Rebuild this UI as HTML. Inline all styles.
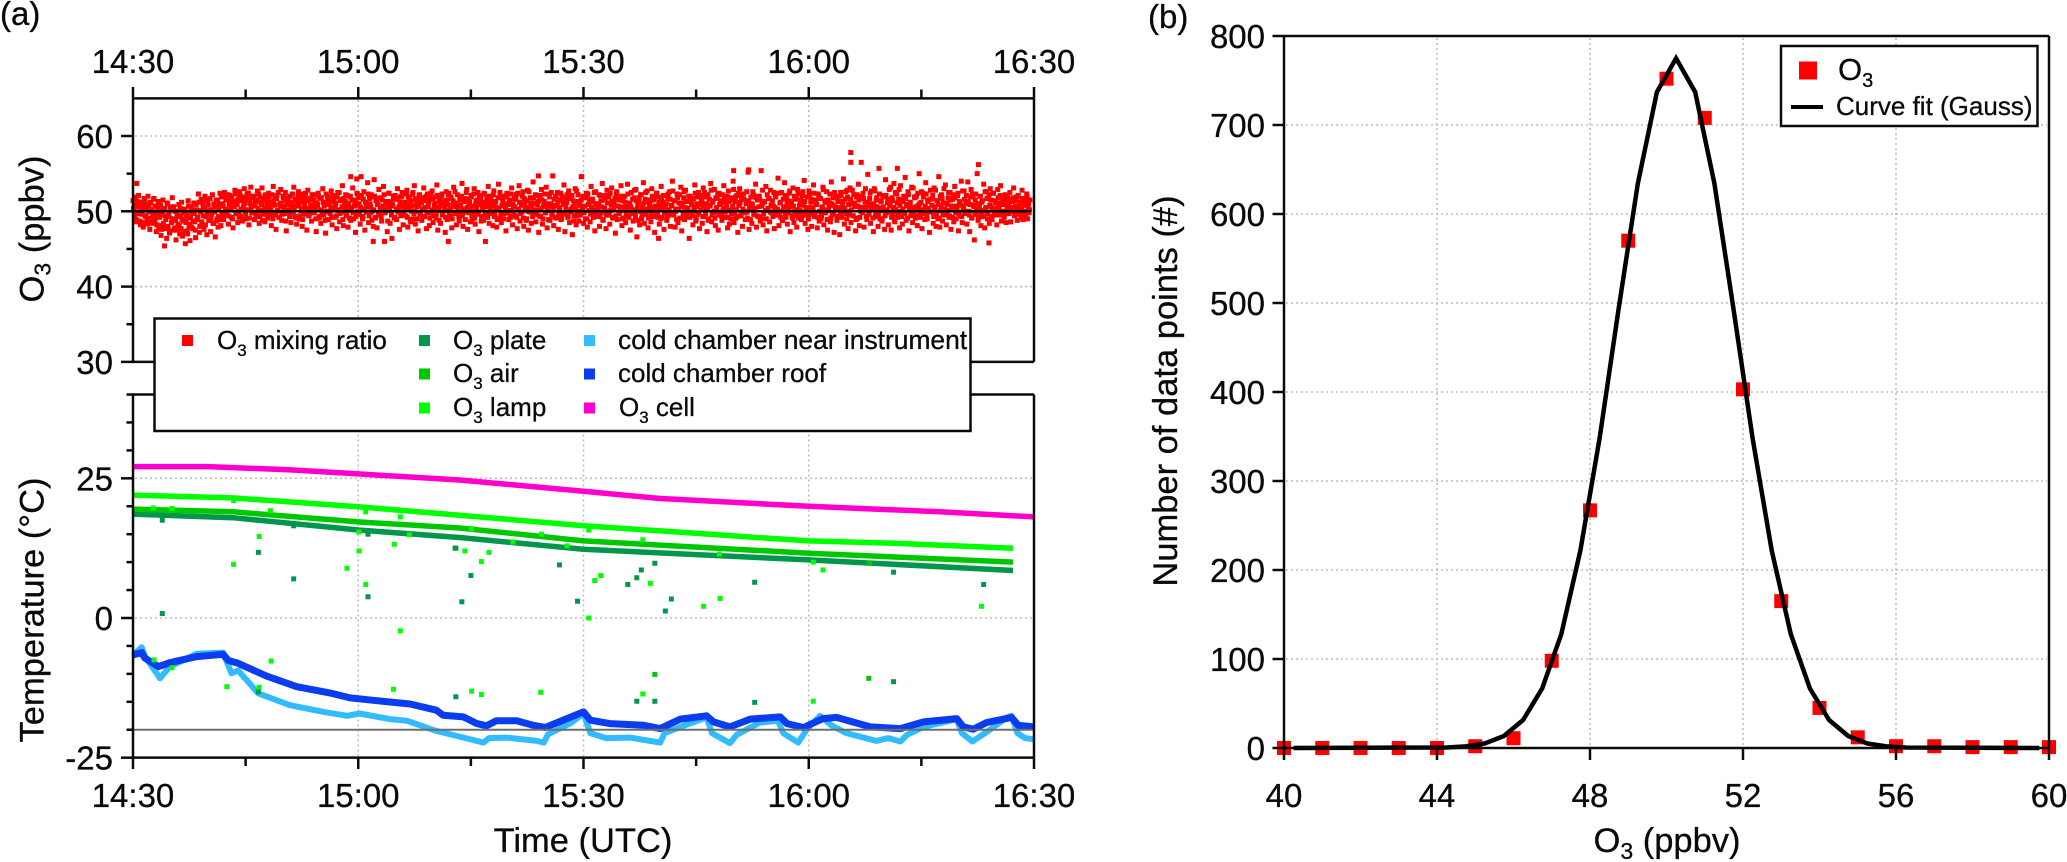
<!DOCTYPE html>
<html lang="en">
<head>
<meta charset="utf-8">
<title>O3 time series and histogram</title>
<style>
html,body{margin:0;padding:0;background:#fff}
svg{display:block}
text{font-family:"Liberation Sans",Arial,sans-serif;fill:#0a0a0a;stroke:#0a0a0a;stroke-width:.3px}
</style>
</head>
<body>
<svg id="figure" xmlns="http://www.w3.org/2000/svg" width="2067" height="862" viewBox="0 0 2067 862">
<rect x="0" y="0" width="2067" height="862" fill="#fff"/>
<text x="0" y="25" font-size="33">(a)</text>
<text x="1148" y="28" font-size="33">(b)</text>
<g id="plot-a"></g>
<g>
<rect x="154.5" y="318.5" width="816" height="112.5" fill="#fff" stroke="#0a0a0a" stroke-width="2.5"/>
<rect x="182" y="335" width="11" height="11" fill="#ff0000"/>
<text x="217" y="349" font-size="26">O<tspan font-size="17" dy="7">3</tspan><tspan dy="-7"> mixing ratio</tspan></text>
<rect x="419" y="335" width="11" height="11" fill="#00964b"/>
<text x="453" y="349" font-size="26">O<tspan font-size="17" dy="7">3</tspan><tspan dy="-7"> plate</tspan></text>
<rect x="419" y="368.5" width="11" height="11" fill="#00c800"/>
<text x="453" y="382" font-size="26">O<tspan font-size="17" dy="7">3</tspan><tspan dy="-7"> air</tspan></text>
<rect x="419" y="402.5" width="11" height="11" fill="#00ff00"/>
<text x="453" y="416" font-size="26">O<tspan font-size="17" dy="7">3</tspan><tspan dy="-7"> lamp</tspan></text>
<rect x="584" y="335" width="11" height="11" fill="#33bbff"/>
<text x="618" y="349" font-size="26.4">cold chamber near instrument</text>
<rect x="584" y="368.5" width="11" height="11" fill="#0a3cf0"/>
<text x="618" y="382" font-size="26">cold chamber roof</text>
<rect x="584" y="402.5" width="11" height="11" fill="#ff00cc"/>
<text x="619" y="416" font-size="26">O<tspan font-size="17" dy="7">3</tspan><tspan dy="-7"> cell</tspan></text>
</g>
<text x="43.5" y="229" font-size="34.5" text-anchor="middle" transform="rotate(-90 43.5 229)">O<tspan font-size="23" dy="7">3</tspan><tspan dy="-7"> (ppbv)</tspan></text>
<text x="43.5" y="610" font-size="34.5" text-anchor="middle" transform="rotate(-90 43.5 610)">Temperature (°C)</text>
<text x="583" y="852" font-size="34.5" text-anchor="middle">Time (UTC)</text>
<g id="plot-b"></g>
<g>
<rect x="1781" y="46" width="256.5" height="80" fill="#fff" stroke="#0a0a0a" stroke-width="2.5"/>
<rect x="1799" y="61.5" width="18" height="18" fill="#ff0000"/>
<text x="1838" y="80" font-size="31">O<tspan font-size="20" dy="7">3</tspan></text>
<rect x="1791" y="105" width="32" height="4" fill="#000"/>
<text x="1836" y="115" font-size="26">Curve fit (Gauss)</text>
</g>
<text x="1177" y="391" font-size="34.5" text-anchor="middle" transform="rotate(-90 1177 391)">Number of data points (#)</text>
<text x="1667" y="852" font-size="34.5" text-anchor="middle">O<tspan font-size="23" dy="7">3</tspan><tspan dy="-7"> (ppbv)</tspan></text>
</svg>
<script>
const timeTickMinutes=[0,30,60,90,120];
const timeTickLabels=["14:30","15:00","15:30","16:00","16:30"];
const timeMinorMinutes=[15,45,75,105];
const o3TickValues=[60,50,40,30];
const o3MinorValues=[55,45,35];
const tempTickValues=[25,0,-25];
const tempMinorValues=[40,35,30,20,15,10,5,-5,-10,-15,-20];
const o3Values=[
51.4,50.2,49.1,51.9,48.6,50.8,52.1,49.7,48.2,51.2,50.5,47.9,51.7,49.4,50.9,48.8,52.0,49.9,47.6,51.1,50.3,48.4,51.6,49.2,
50.7,47.3,49.8,51.3,48.1,50.1,46.8,49.5,51.5,47.8,50.4,48.9,46.4,51.0,49.3,47.1,50.6,48.5,51.8,49.0,47.5,50.0,46.2,49.6,
48.3,50.9,47.0,49.4,51.2,46.7,48.7,50.3,45.7,49.1,47.4,51.4,48.0,46.1,50.5,49.7,47.7,51.1,48.6,46.5,50.2,49.2,52.3,47.2,
49.9,51.6,48.2,50.7,47.6,52.0,49.3,46.9,51.3,48.8,50.1,47.3,49.6,52.2,48.4,50.8,46.6,51.5,49.0,47.9,50.4,52.4,48.1,49.8,
51.0,48.9,52.5,50.3,49.5,51.7,48.3,50.9,52.1,49.2,51.2,47.8,50.6,52.8,49.7,51.4,48.5,50.0,52.6,49.4,51.8,48.7,50.5,53.0,
51.1,49.0,52.3,50.2,48.2,51.6,53.2,49.8,50.7,52.0,48.9,51.3,49.3,52.7,50.4,48.4,51.9,50.1,53.1,49.6,51.5,48.6,52.2,50.8,
49.1,52.4,50.3,51.2,48.1,50.9,53.3,49.5,51.7,47.6,52.1,50.0,49.2,51.0,52.9,48.8,50.6,51.8,49.7,52.5,47.4,50.2,51.4,49.9,
52.0,48.5,51.1,50.5,53.2,49.3,51.6,48.3,50.7,52.6,49.0,51.3,50.1,48.0,52.3,49.6,51.9,50.4,47.5,52.8,49.4,51.5,50.8,48.7,
50.3,52.2,49.8,51.0,47.3,50.6,52.4,49.1,51.7,48.4,50.0,53.0,49.5,51.2,47.1,50.9,52.0,48.9,51.4,49.7,52.7,48.2,50.5,51.8,
49.2,51.1,47.7,52.5,50.2,48.6,51.6,49.9,53.4,48.1,50.7,51.3,49.4,52.1,47.9,50.4,51.9,48.8,50.1,53.1,49.0,51.5,47.2,50.8,
52.3,49.6,51.0,48.3,54.6,50.3,49.3,52.6,47.5,51.2,50.6,53.8,48.5,51.7,49.8,52.2,50.0,48.0,54.2,49.1,51.4,47.8,50.9,52.9,
49.5,51.8,48.7,50.2,53.3,46.0,49.9,51.3,47.3,50.5,52.4,48.4,51.1,46.4,50.7,52.0,49.2,51.6,48.9,53.0,50.1,47.6,51.9,49.7,
52.5,48.2,50.4,51.2,49.4,52.8,47.9,50.8,51.5,48.6,50.0,52.2,49.0,53.4,48.3,51.0,50.6,47.4,52.1,49.6,51.7,48.8,50.3,53.1,
49.3,51.4,47.7,52.3,50.9,48.1,51.8,49.8,52.7,48.5,50.2,51.1,49.1,53.5,47.5,50.5,51.6,48.4,52.0,49.5,51.3,50.7,47.2,52.6,
48.9,50.1,52.4,49.2,51.9,47.8,50.8,53.2,49.7,51.0,48.2,52.2,50.4,48.7,51.5,49.4,53.7,48.0,50.3,51.7,49.9,52.9,47.6,50.6,
51.2,48.6,52.1,49.0,50.0,53.0,48.3,51.4,49.6,52.5,47.3,50.9,51.8,49.3,50.5,48.8,52.3,46.0,51.1,49.8,53.3,48.4,50.2,51.6,
50.7,48.1,52.7,49.5,51.3,47.9,50.4,53.6,49.1,51.9,48.5,50.8,52.0,49.7,51.0,47.4,52.4,50.1,48.9,51.5,49.2,53.1,48.2,50.6,
51.7,49.4,52.2,47.7,50.3,53.4,48.7,51.2,49.9,52.6,48.0,50.9,51.4,49.0,52.8,47.5,50.5,51.8,48.4,50.0,53.9,49.6,51.1,48.6,
52.1,50.2,47.2,51.6,49.3,52.9,48.3,50.7,51.3,49.8,53.2,47.8,50.4,52.3,48.8,51.0,49.5,54.7,48.1,50.8,51.9,49.1,52.5,47.6,
50.1,51.5,48.9,52.0,49.7,53.5,47.3,50.6,51.2,49.2,52.7,48.5,51.7,50.3,46.9,51.4,49.4,53.0,48.2,50.0,52.2,48.7,51.1,49.9,
54.6,50.5,48.4,51.8,49.0,52.4,47.9,50.9,51.6,48.6,53.3,49.6,51.3,50.2,47.4,52.6,49.3,50.7,51.0,48.0,52.1,49.8,53.7,48.8,
50.4,51.5,47.7,52.8,49.5,51.9,48.3,50.1,53.1,49.2,51.2,50.8,47.1,52.3,48.9,51.7,49.7,50.6,53.4,48.1,51.4,49.1,52.0,48.5,
50.3,53.6,49.4,51.1,47.5,52.5,50.0,48.7,51.8,49.9,52.9,46.6,50.9,51.3,48.2,52.2,49.0,50.5,53.8,48.4,51.6,49.6,52.7,47.8,
50.2,51.0,48.6,53.0,49.3,51.5,47.2,50.7,52.4,49.8,51.9,48.3,50.4,53.3,49.2,51.2,47.6,52.1,50.1,48.8,51.7,49.5,52.6,48.0,
50.8,54.0,49.7,51.4,47.9,50.3,52.3,48.5,51.1,49.1,53.2,47.4,50.6,51.8,48.9,52.8,49.4,50.0,51.3,46.4,52.0,49.9,51.6,48.2,
50.5,53.5,48.7,51.0,49.6,52.5,47.7,50.9,51.5,48.4,53.1,49.3,51.9,50.2,47.3,52.2,49.0,50.7,53.7,48.6,51.2,49.8,52.9,48.1,
50.4,51.7,47.5,52.4,49.5,51.4,48.8,50.1,53.4,49.2,51.1,50.6,47.8,52.7,48.3,51.8,49.7,50.3,54.0,48.5,51.3,49.1,52.1,47.2,
50.8,53.0,49.4,51.6,48.0,52.3,50.0,48.9,51.0,49.9,55.2,47.6,50.5,51.9,48.4,52.6,49.6,50.2,53.6,47.9,51.5,49.3,52.0,48.7,
55.4,50.9,48.2,51.2,49.0,53.3,47.4,50.4,51.7,48.6,52.8,49.8,51.4,50.7,47.7,52.2,49.5,50.1,54.4,48.1,51.1,49.2,52.5,48.8,
50.6,53.8,49.7,51.8,48.3,50.3,52.4,47.3,51.3,49.4,53.1,48.5,50.0,51.6,47.9,52.9,49.1,50.8,51.0,48.9,52.1,49.9,54.1,48.4,
50.5,51.9,47.6,52.7,49.6,51.2,48.0,50.2,53.5,49.3,51.5,50.9,47.8,52.3,48.7,51.7,49.0,50.4,53.2,48.2,51.4,49.8,52.6,47.5,
50.1,51.1,48.6,53.9,49.5,51.8,47.2,50.6,52.0,48.8,51.3,50.3,46.9,52.5,49.2,50.7,54.3,48.3,51.6,49.7,52.8,47.7,50.0,53.1,
48.5,51.0,49.4,52.2,50.8,47.4,51.9,49.1,53.6,48.1,50.5,56.5,49.9,52.4,47.9,51.2,50.2,48.9,54.9,49.6,51.7,48.4,52.7,50.4,
47.3,53.0,49.3,51.5,50.6,48.0,55.7,49.0,51.4,48.7,52.1,50.1,47.6,54.2,49.8,51.1,48.2,52.9,50.9,47.5,51.8,49.5,53.7,48.6,
50.3,52.3,49.2,51.6,47.8,53.4,50.0,48.3,51.3,49.7,54.5,48.8,50.7,52.6,47.4,51.0,49.4,53.2,48.5,50.5,51.9,49.1,52.0,48.1,
50.8,55.0,49.6,51.2,47.7,52.4,50.2,48.9,53.8,49.3,51.5,50.4,47.2,52.8,49.9,51.7,48.4,53.1,50.6,48.0,51.4,49.0,54.6,47.9,
50.1,52.2,48.7,51.1,49.5,53.5,48.2,50.9,51.8,49.2,52.5,47.6,50.3,51.6,48.6,53.3,49.8,50.7,52.1,47.4,51.3,49.4,54.0,48.5,
50.5,52.7,49.7,51.0,48.3,53.9,50.0,47.3,51.9,49.1,52.3,50.8,46.2,51.5,49.6,55.0,48.8,50.2,52.0,48.1,51.2,49.3,53.6,47.8,
50.4,52.6,49.0,51.7,48.4,53.0,50.6,48.9,52.4,49.9,51.4,50.1,48.2,52.9,49.5,51.1,53.4,48.7,50.9,51.8,49.2,52.2,48.5,50.3,
51.6,49.7,52.5,48.6,51.3,50.5,53.1,49.4,50.7,51.9,48.8,52.1,50.0,51.2,49.1,52.8,48.9,50.8,51.5,49.6,52.3,49.0,51.0,50.2
];
const o3ValuesBetween=[
50.4,49.5,50.9,48.9,51.3,49.9,50.6,48.7,51.0,49.6,50.1,48.5,51.5,49.3,50.3,48.3,50.8,49.1,51.2,48.6,50.0,49.4,51.7,48.8,
49.7,48.2,50.5,47.9,49.2,50.8,47.6,49.9,48.4,50.2,47.7,49.4,51.1,48.0,49.6,47.4,50.3,48.6,49.0,50.6,47.8,48.8,50.0,47.5,
49.3,48.1,50.4,47.7,48.9,49.8,47.3,50.1,48.5,49.5,47.0,50.7,48.3,49.1,47.9,50.2,48.7,49.7,47.5,50.9,48.9,49.2,51.2,48.0,
50.1,48.6,51.1,49.4,50.5,48.2,51.4,49.7,50.8,48.8,51.7,49.1,50.2,48.4,51.0,49.9,50.6,48.7,51.5,49.3,50.9,48.9,51.9,49.5,
50.7,52.0,49.9,51.5,50.1,52.2,49.4,51.3,50.4,51.8,49.0,51.1,50.6,52.3,49.7,50.9,51.6,49.2,52.1,50.3,51.4,48.9,50.8,51.9,
49.6,51.7,50.2,52.4,49.1,51.0,50.5,51.8,49.8,52.0,50.7,49.4,51.5,50.0,52.3,49.3,51.2,50.9,48.8,51.6,50.4,52.1,49.7,51.3,
50.6,51.9,49.5,50.2,52.2,49.0,51.4,50.8,49.8,51.7,50.1,52.5,49.2,50.7,51.1,49.6,52.0,50.4,51.5,48.7,50.9,51.8,50.0,49.3,
51.2,50.5,52.3,49.9,50.2,51.6,49.1,51.0,52.1,50.7,49.4,51.9,50.3,48.9,51.3,50.8,52.4,49.7,51.4,50.1,49.5,51.7,50.6,52.2,
49.8,51.5,50.4,49.0,51.1,50.9,52.0,49.3,50.2,51.8,49.6,51.2,50.7,48.8,52.3,50.0,51.6,49.9,51.0,50.5,49.2,52.1,51.3,50.3,
50.8,49.4,51.9,50.1,52.5,49.7,51.4,50.6,48.9,51.7,50.2,52.2,49.5,51.1,50.9,49.1,52.0,50.4,51.5,49.8,50.7,51.3,49.3,52.4,
50.0,51.8,49.6,50.5,52.1,49.0,51.6,50.3,51.2,49.9,50.8,52.3,49.4,51.0,50.6,48.8,51.9,50.2,52.0,49.2,51.4,50.9,49.7,51.7,
50.4,49.3,51.5,50.7,52.2,49.8,51.1,50.1,48.7,52.4,50.5,51.3,49.5,50.9,51.8,49.1,52.1,50.3,51.6,49.9,50.6,51.2,49.4,52.0,
50.8,49.6,51.0,50.2,52.3,49.2,51.9,50.4,48.9,51.4,50.7,52.5,49.7,50.0,51.7,49.0,51.5,50.9,52.2,49.5,51.1,50.3,49.3,51.8,
50.5,52.0,49.8,50.6,51.3,49.1,52.4,50.2,51.6,49.4,50.8,51.9,49.6,52.1,50.1,48.8,51.2,50.7,52.3,49.9,51.0,50.4,49.2,51.5,
50.9,52.2,49.5,50.3,51.7,49.0,51.4,50.6,52.6,49.7,51.1,50.0,49.3,51.8,50.8,52.0,49.6,50.2,51.3,48.9,52.5,50.5,51.6,49.8,
50.1,51.9,49.4,50.7,52.3,49.1,51.0,50.4,51.5,49.9,52.1,50.9,48.7,51.2,50.3,52.4,49.5,50.6,51.7,49.2,52.0,50.8,51.4,49.7,
50.0,52.2,49.3,51.1,50.5,48.9,51.8,50.2,52.5,49.6,50.7,51.3,49.0,51.9,50.4,52.1,49.8,50.9,51.5,49.4,52.3,50.1,51.0,49.5,
50.6,51.6,49.2,52.4,50.3,51.2,49.7,50.8,52.0,49.1,51.7,50.5,48.8,51.4,50.0,52.6,49.9,51.1,50.7,49.3,51.8,50.2,52.2,49.6,
50.9,51.3,49.4,52.1,50.4,51.5,49.0,50.6,52.3,49.8,51.0,50.1,48.9,51.9,50.8,52.5,49.5,50.3,51.6,49.2,52.0,50.7,51.2,49.7,
50.5,52.4,49.1,51.4,50.9,49.6,51.7,50.2,52.2,49.3,50.0,51.8,49.9,52.1,50.6,48.7,51.1,50.4,52.7,49.4,51.3,50.8,49.5,51.5,
50.3,52.0,49.8,50.7,51.9,49.0,52.3,50.1,51.2,49.7,50.5,51.6,49.2,52.5,50.9,49.6,51.0,50.2,52.2,49.3,51.4,50.6,48.9,51.8,
50.4,52.1,49.5,51.1,50.0,49.8,52.4,50.8,51.3,49.1,50.3,51.7,49.4,52.6,50.7,51.5,49.9,50.1,52.0,49.0,51.9,50.5,51.2,49.6,
50.9,52.3,49.2,51.0,50.6,49.7,51.6,50.2,52.8,49.3,51.4,50.4,48.8,51.8,50.0,52.2,49.5,50.7,51.1,49.9,52.5,50.3,51.3,49.1,
50.8,51.5,49.6,52.0,50.5,49.4,51.9,50.1,52.4,49.2,51.2,50.9,49.0,51.7,50.6,52.1,49.8,50.4,51.0,49.3,52.3,50.2,51.6,49.7,
50.7,52.7,49.5,51.4,50.0,48.9,51.8,50.3,52.2,49.1,50.8,51.1,49.6,52.6,50.5,51.3,49.9,50.4,52.0,49.2,51.5,50.9,49.4,51.7,
50.1,52.4,49.0,50.6,51.9,49.8,52.1,50.2,51.2,49.3,50.7,52.5,49.7,51.0,50.3,48.8,51.6,50.8,52.8,49.5,51.4,50.0,49.1,51.8,
50.5,52.3,49.6,50.9,51.1,49.4,52.2,50.4,51.7,49.9,50.6,52.0,49.2,51.3,50.1,49.0,51.5,50.7,52.9,49.7,51.9,50.2,49.3,52.4,
50.8,51.2,49.5,52.1,50.3,51.6,49.8,50.0,52.6,49.1,51.4,50.5,48.9,51.0,50.9,52.3,49.6,50.4,51.8,49.4,52.0,50.6,51.5,49.2,
50.7,52.8,49.7,51.3,50.1,49.0,52.2,50.2,51.7,49.9,50.8,51.1,49.3,52.5,50.5,51.9,49.5,50.3,52.4,49.6,51.2,50.0,48.8,51.6,
50.4,52.1,49.2,50.9,51.4,49.8,52.7,50.6,51.0,49.1,50.7,52.0,49.4,51.8,50.2,52.3,49.7,50.1,51.5,49.3,52.6,50.8,51.3,49.5,
50.3,51.9,49.0,52.2,50.5,51.6,49.9,50.4,52.4,49.6,51.1,50.9,49.2,52.0,50.0,51.7,49.4,50.6,52.9,49.8,51.2,50.2,48.9,51.5,
50.7,52.3,49.1,51.0,50.8,49.7,52.5,50.3,51.8,49.3,50.5,51.4,49.5,52.1,50.1,51.3,49.9,50.4,52.6,49.0,51.9,50.9,49.6,51.6,
50.2,52.8,49.4,51.1,50.6,48.9,52.2,50.7,51.5,49.2,50.0,52.0,49.8,51.7,50.5,53.0,49.3,50.8,51.2,49.7,52.4,50.3,51.0,49.1,
50.9,52.7,49.5,51.8,50.1,49.6,52.3,50.4,51.3,49.0,50.6,51.9,49.4,52.1,50.2,51.6,49.9,50.7,53.2,49.2,51.4,50.5,48.8,52.5,
50.0,51.1,49.7,52.9,50.8,51.5,49.3,50.3,52.0,49.8,51.7,50.9,49.1,52.2,50.4,51.2,49.5,50.1,53.1,49.6,51.8,50.6,49.4,52.4,
50.5,51.0,49.2,52.6,50.2,51.9,49.7,50.7,52.3,49.0,51.3,50.0,49.9,51.6,50.8,52.1,49.3,50.4,52.8,49.5,51.4,50.9,49.1,52.0,
50.6,51.7,49.6,53.0,50.3,51.1,49.8,50.1,52.5,49.4,51.5,50.7,49.2,52.2,50.5,51.8,49.0,50.2,52.4,49.7,51.2,50.8,49.3,52.7,
50.4,51.6,49.9,52.1,50.0,51.3,49.5,50.9,52.9,49.1,51.9,50.6,49.6,52.3,50.3,51.0,49.2,50.7,52.0,49.8,51.4,50.1,49.4,52.6,
50.5,51.7,49.7,52.2,50.8,51.5,49.3,50.2,52.4,49.5,51.1,50.4,49.9,51.8,50.6,52.1,49.6,50.0,51.6,49.4,51.3,50.9,49.8,51.9,
50.7,51.2,50.1,51.6,50.3,51.8,49.9,50.5,51.4,49.7,52.0,50.6,49.6,51.1,50.2,51.7,49.5,50.8,51.3,50.0,51.9,50.4,49.8,51.5
];
const o3OutlierMinutes=[0.5,4.2,29,29.8,32,42,54,59.7,70,80,82,95.6,95.6,101.8,112.6,114];
const o3OutlierValues=[53.7,45.4,54.6,54.3,46,46,54.7,54.6,46.4,55.4,55.5,57.8,56.5,55.7,56.2,45.8];
const cellMinutes=[0,10,21,30,43.5,60,70,90,107.5,120];
const cellTemps=[27.1,27.1,26.5,25.8,24.7,22.7,21.4,20,19,18.1];
const lampMinutes=[0,13.3,30,43.5,60,70,90,101,117.2];
const lampTemps=[22,21.5,19.9,18.4,16.5,15.6,13.8,13.4,12.5];
const airMinutes=[0,13.3,30,43.5,60,90,117.2];
const airTemps=[19.5,19,17.2,16.1,13.8,11.6,10];
const plateMinutes=[0,13.3,30,43.5,60,90,117.2];
const plateTemps=[18.6,17.95,15.75,14.4,12.3,10.4,8.5];
const roofMinutes=[0,1.16,1.6,3.4,4.9,8.5,12,12.7,14,17.8,21.8,26.2,28.9,32.5,36.9,40.4,41.3,44,45.8,47.1,48.4,51.1,53.3,54.9,58.2,60,60.9,63.5,68,70.2,72.9,76.4,77.3,79.5,82.2,86.2,87.1,89.3,91.9,93.7,98.2,102.2,105.3,109.7,110.6,111.9,113.7,117,117.9,120];
const roofTemps=[-6.6,-6.2,-7.2,-8.7,-8,-6.9,-6.5,-7.6,-8.1,-10.4,-12.3,-13.4,-14.3,-14.8,-15.4,-16.5,-17.4,-17.7,-18.9,-19.3,-18.4,-18.4,-19.2,-19.6,-17.8,-16.8,-18.3,-18.9,-19.2,-19.8,-18.1,-17.5,-18.6,-19.5,-18.1,-17.7,-18.9,-19.6,-18,-17.8,-19.5,-19.8,-18.6,-18,-19.5,-19.9,-18.7,-17.8,-19.2,-19.5];
const nearMinutes=[0,1.16,1.6,3.6,4.9,8.5,12,13.1,14,16.7,20.9,25.4,28.5,30.2,34.2,36.5,40.4,46.7,47.4,49.8,53.8,54.7,55.3,58.2,60,60.9,63,66.2,70.2,70.8,72.9,76.4,77.1,79.5,80.4,83.5,85.9,86.6,88.6,89.7,91.5,93,95,99,100.6,102.2,103.1,105.3,109.7,110.4,111.8,113.7,116.4,117,117.8,118.8,120];
const nearTemps=[-6.6,-5.25,-6.9,-10.8,-8.7,-6.4,-6.2,-9.9,-9.4,-13.5,-15.6,-16.8,-17.5,-17.1,-18.1,-18.4,-20.2,-22.3,-21.5,-21.4,-22,-22.3,-20.8,-18.9,-17.1,-20.6,-21.5,-21.4,-22.3,-20.6,-19.5,-17.8,-20.6,-22.4,-20.9,-18.7,-18.4,-20.6,-22.3,-20,-17.5,-19.2,-20.6,-22,-21.5,-22.1,-20.9,-19.5,-18.1,-20.6,-22.1,-20.4,-17.8,-17.5,-20.6,-21.5,-21.7];
const plateStrayMinutes=[3.9,3.9,16.7,21.4,31.3,31.3,43,21.4,42.9,43.8,45,56.8,59.2,65.9,67.1,67.7,69.5,70.9,71.7,82.8,101.3,113.3,16.7,43,67.1,69.5,82.8,101.3];
const plateStrayTemps=[17.5,0.8,11.75,7,3.8,15,12.5,16.5,12.5,2.9,7.6,9.5,3,6,7.2,8.6,9.8,1.25,3.4,6.4,8.2,6,-13.2,-14.1,-14.9,-14.9,-15.1,-11.4];
const airStrayMinutes=[98.1,69.5,98];
const airStrayTemps=[9.8,-10.1,-10.8];
const lampStrayMinutes=[2.7,5.2,13.4,13.4,16.8,18.3,28.5,30.1,30.1,31,31,34.8,35.6,35.6,36.8,44.2,46.4,47.4,45.1,50.6,54.4,57.8,61.5,62.3,68.9,76,78.2,60.7,60.7,67.9,78.1,90.6,91.9,113,2.8,5.2,12.5,18.4,16.8,34.7,45.1,46.4,54.3,67.9,90.6];
const lampStrayTemps=[19.7,19.6,9.6,21,14.6,19.2,8.9,12,15.4,6,19,13.2,18.1,-2.3,14.9,12,10.1,11.75,16,13.6,15,12.9,6.7,7.6,6.2,2.1,3.5,0,15.75,14,11.45,10,8.6,2.1,-7.5,-8.9,-12.3,-7.7,-12.4,-12.76,-13.1,-13.7,-13.3,-13.6,-14.9];
const referenceO3=[50];
const referenceTemp=[-20];
const countTickValues=[800,700,600,500,400,300,200,100,0];
const o3BinTickValues=[40,44,48,52,56,60];
const o3BinCenters=[40,41,42,43,44,45,46,47,48,49,50,51,52,53,54,55,56,57,58,59,60];
const o3BinCounts=[0,0,0,0,0,2,11,98,267,570,752,708,403,165,45,12,2,2,1,1,1];
const fitX=[40.25,44.25,44.75,45.25,45.75,46.25,46.75,47.25,47.75,48.25,48.75,49.25,49.75,50.25,50.75,51.25,51.75,52.25,52.75,53.25,53.75,54.25,54.75,55.25,55.75,56.25,59.75];
const fitY=[0,0.6,1.8,5,13.5,31.5,67,128,222,348,494,634,737,775,737,635,494,348,222,128,67,31.5,13.5,5,1.8,0.6,0];

const NS="http://www.w3.org/2000/svg";
const plotA=document.getElementById("plot-a");
const plotB=document.getElementById("plot-b");
const xTime=m=>133+m*(1034-133)/120;
const yO3=v=>211.3-(v-50)*7.53;
const yTemp=v=>618-v*5.587;
const xBin=v=>1284+(v-40)*38.25;
const yCount=v=>748-v*0.89;
function add(tag,attrs,parent){
  const el=document.createElementNS(NS,tag);
  for(const k in attrs){el.setAttribute(k,attrs[k]);}
  parent.appendChild(el);
  return el;
}
const AXIS="#0a0a0a";
const AW=2.5;
const GRID={stroke:"#bdbdbd","stroke-width":1.6,"stroke-dasharray":"2 3",fill:"none"};

/* panel (a) grid */
[60,40].concat(referenceO3).forEach(v=>{
  const g=add("line",Object.assign({x1:135,x2:1033,y1:yO3(v),y2:yO3(v)},GRID),plotA);
  
  
});
tempTickValues.slice(0,2).forEach(v=>{
  const g=add("line",Object.assign({x1:135,x2:1033,y1:yTemp(v),y2:yTemp(v)},GRID),plotA);
  
  
});
timeTickMinutes.slice(1,4).forEach(m=>{
  const g1=add("line",Object.assign({x1:xTime(m),x2:xTime(m),y1:100,y2:yO3(30)},GRID),plotA);
  
  
  const g2=add("line",Object.assign({x1:xTime(m),x2:xTime(m),y1:yTemp(40),y2:756},GRID),plotA);
  
  
});

/* O3 scatter */
const o3Step=120/(o3Values.length-1);
o3Values.forEach((v,i)=>{
  const r=add("rect",{x:xTime(i*o3Step*0.995)-2.5,y:yO3(v)-2.5,width:5,height:5,fill:"#ff0000"},plotA);
  
  
});
o3ValuesBetween.forEach((v,i)=>{
  const r=add("rect",{x:xTime((i+0.5)*o3Step*0.995)-2.5,y:yO3(v)-2.5,width:5,height:5,fill:"#ff0000"},plotA);
  
  
});
o3OutlierMinutes.forEach((m,i)=>{
  const r=add("rect",{x:xTime(m)-2.5,y:yO3(o3OutlierValues[i])-2.5,width:5,height:5,fill:"#ff0000"},plotA);
  
  
});
const refO3=add("line",{x1:xTime(0),x2:xTime(119.6),y1:yO3(referenceO3[0]),y2:yO3(referenceO3[0]),stroke:"#0a0a0a","stroke-width":2.5},plotA);



/* temperature lines */
function series(ms,vs,color,w){
  const pts=ms.map((m,i)=>xTime(m).toFixed(1)+","+yTemp(vs[i]).toFixed(1)).join(" ");
  return add("polyline",{points:pts,fill:"none",stroke:color,"stroke-width":w,"stroke-linejoin":"round"},plotA);
}
const sPlate=series(plateMinutes,plateTemps,"#00964b",5.5);


const sAir=series(airMinutes,airTemps,"#00c800",5.5);


const sLamp=series(lampMinutes,lampTemps,"#00ff00",5.5);


const sCell=series(cellMinutes,cellTemps,"#ff00cc",5.5);


const sNear=series(nearMinutes,nearTemps,"#33bbff",6);


const sRoof=series(roofMinutes,roofTemps,"#0a3cf0",7);



plateStrayMinutes.forEach((m,i)=>{
  const r=add("rect",{x:xTime(m)-2.5,y:yTemp(plateStrayTemps[i])-2.5,width:5,height:5,fill:"#00964b"},plotA);
  
  
});
airStrayMinutes.forEach((m,i)=>{
  const r=add("rect",{x:xTime(m)-2.5,y:yTemp(airStrayTemps[i])-2.5,width:5,height:5,fill:"#00c800"},plotA);
  
  
});
lampStrayMinutes.forEach((m,i)=>{
  const r=add("rect",{x:xTime(m)-2.5,y:yTemp(lampStrayTemps[i])-2.5,width:5,height:5,fill:"#00ff00"},plotA);
  
  
});
const refT=add("line",{x1:xTime(0),x2:xTime(120),y1:yTemp(referenceTemp[0]),y2:yTemp(referenceTemp[0]),stroke:"#6e6e6e","stroke-width":2},plotA);



/* panel (a) frame */
function seg(x1,y1,x2,y2,parent){
  return add("line",{x1:x1,y1:y1,x2:x2,y2:y2,stroke:AXIS,"stroke-width":AW},parent);
}
const frameA=[
  [xTime(0),yO3(65),xTime(120),yO3(65),'top-axis-line'],
  [xTime(0),yO3(65),xTime(0),yO3(30),'o3-left-axis-line'],
  [xTime(120),yO3(65),xTime(120),yO3(30),'o3-right-axis-line'],
  [xTime(0),yO3(30),xTime(120),yO3(30),'o3-bottom-axis-line'],
  [xTime(0),yTemp(40),xTime(120),yTemp(40),'temperature-top-axis-line'],
  [xTime(0),yTemp(40),xTime(0),yTemp(-25),'temperature-left-axis-line'],
  [xTime(120),yTemp(40),xTime(120),yTemp(-25),'temperature-right-axis-line'],
  [xTime(0),yTemp(-25),xTime(120),yTemp(-25),'bottom-axis-line']
];
frameA.forEach(f=>{
  const l=seg(f[0],f[1],f[2],f[3],plotA);
  
  
});

function tickLabel(x,y,txt,anchor,parent){
  const t=add("text",{x:x,y:y,"font-size":33,"text-anchor":anchor},parent);
  t.textContent=txt;
  return t;
}
timeTickMinutes.forEach((m,i)=>{
  const a=seg(xTime(m),yO3(65),xTime(m),87,plotA);
  
  
  const b=seg(xTime(m),yTemp(-25),xTime(m),769,plotA);
  
  
  const t1=tickLabel(xTime(m),73,timeTickLabels[i],"middle",plotA);
  
  
  const t2=tickLabel(xTime(m),807,timeTickLabels[i],"middle",plotA);
  
  
});
timeMinorMinutes.forEach(m=>{
  const a=seg(xTime(m),yO3(65),xTime(m),89.5,plotA);
  
  
  const b=seg(xTime(m),yTemp(-25),xTime(m),766,plotA);
  
  
});
o3TickValues.forEach(v=>{
  const a=seg(121,yO3(v),133,yO3(v),plotA);
  
  
  const t=tickLabel(113,yO3(v)+12,String(v),"end",plotA);
  
  
});
o3MinorValues.forEach(v=>{
  const a=seg(126.5,yO3(v),133,yO3(v),plotA);
  
  
});
tempTickValues.forEach(v=>{
  const a=seg(121,yTemp(v),133,yTemp(v),plotA);
  
  
  const t=tickLabel(113,yTemp(v)+12,String(v),"end",plotA);
  
  
});
tempMinorValues.forEach(v=>{
  const a=seg(126.5,yTemp(v),133,yTemp(v),plotA);
  
  
});

/* panel (b) */
countTickValues.slice(1,8).forEach(v=>{
  const g=add("line",Object.assign({x1:1286,x2:2047,y1:yCount(v),y2:yCount(v)},GRID),plotB);
  
  
});
o3BinTickValues.slice(1,5).forEach(v=>{
  const g=add("line",Object.assign({x1:xBin(v),x2:xBin(v),y1:38,y2:746},GRID),plotB);
  
  
});
o3BinCenters.forEach((c,i)=>{
  const r=add("rect",{x:xBin(c)-7,y:yCount(o3BinCounts[i])-7,width:14,height:14,fill:"#ff0000"},plotB);
  
  
});
const fit=add("polyline",{points:fitX.map((x,i)=>xBin(x).toFixed(1)+","+yCount(fitY[i]).toFixed(1)).join(" "),fill:"none",stroke:"#000","stroke-width":4.5,"stroke-linejoin":"miter"},plotB);


const frameB=[
  [xBin(40),yCount(800),xBin(60),yCount(800),'b-top-axis-line'],
  [xBin(40),yCount(800),xBin(40),yCount(0),'b-left-axis-line'],
  [xBin(60),yCount(800),xBin(60),yCount(0),'b-right-axis-line'],
  [xBin(40),yCount(0),xBin(60),yCount(0),'b-bottom-axis-line']
];
frameB.forEach(f=>{
  const l=seg(f[0],f[1],f[2],f[3],plotB);
  
  
});
countTickValues.forEach(v=>{
  const a=seg(1272.5,yCount(v),xBin(40),yCount(v),plotB);
  
  
  const t=tickLabel(1265,yCount(v)+12,String(v),"end",plotB);
  
  
});
o3BinTickValues.forEach(v=>{
  const a=seg(xBin(v),yCount(0),xBin(v),760,plotB);
  
  
  const t=tickLabel(xBin(v),807,String(v),"middle",plotB);
  
  
});
</script>
</body>
</html>
